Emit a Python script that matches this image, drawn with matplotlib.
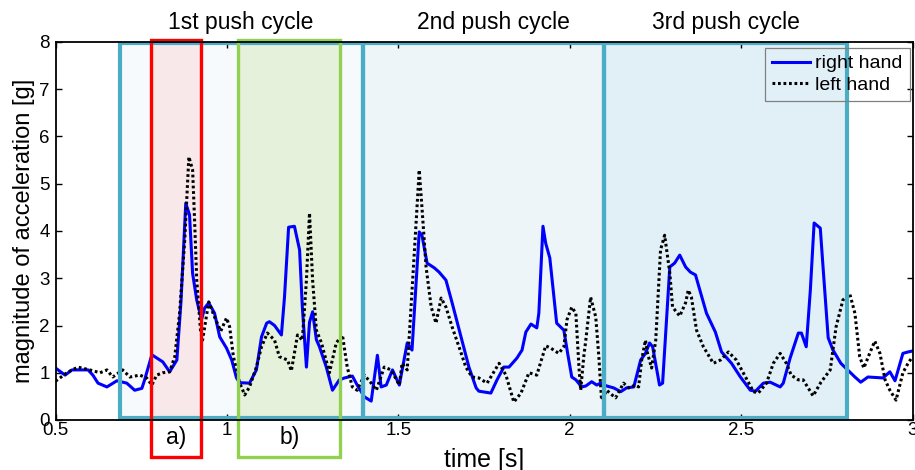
import matplotlib
matplotlib.use("Agg")
import matplotlib.pyplot as plt
from matplotlib.patches import Rectangle

plt.rcParams['font.family'] = ['Liberation Sans', 'DejaVu Sans']

# right hand acceleration magnitude [g] over time [s]
right_t = [0.500, 0.528, 0.548, 0.595, 0.609, 0.624, 0.650, 0.679, 0.708, 0.731,
           0.752, 0.760, 0.781, 0.813, 0.833, 0.854, 0.866, 0.880, 0.891, 0.900,
           0.912, 0.926, 0.935, 0.947, 0.964, 0.979, 0.999, 1.014, 1.028, 1.037,
           1.066, 1.086, 1.101, 1.116, 1.124, 1.139, 1.159, 1.168, 1.180, 1.197,
           1.212, 1.220, 1.232, 1.241, 1.250, 1.261, 1.270, 1.290, 1.308, 1.328,
           1.343, 1.366, 1.380, 1.401, 1.421, 1.439, 1.450, 1.465, 1.483, 1.503,
           1.526, 1.540, 1.561, 1.569, 1.584, 1.605, 1.619, 1.639, 1.657, 1.683,
           1.706, 1.727, 1.735, 1.770, 1.788, 1.808, 1.823, 1.846, 1.861, 1.872,
           1.887, 1.904, 1.910, 1.922, 1.930, 1.942, 1.962, 1.983, 1.994, 2.006,
           2.018, 2.035, 2.047, 2.064, 2.079, 2.090, 2.108, 2.128, 2.149, 2.166,
           2.187, 2.207, 2.221, 2.233, 2.242, 2.262, 2.271, 2.292, 2.306, 2.321,
           2.338, 2.352, 2.367, 2.399, 2.425, 2.443, 2.472, 2.498, 2.527, 2.542,
           2.565, 2.585, 2.614, 2.623, 2.643, 2.667, 2.676, 2.690, 2.702, 2.713,
           2.731, 2.739, 2.754, 2.768, 2.791, 2.811, 2.832, 2.849, 2.870, 2.914,
           2.934, 2.949, 2.972, 2.987, 3.000]
right_g = [1.10, 0.95, 1.06, 1.06, 0.95, 0.78, 0.70, 0.83, 0.78, 0.63,
           0.67, 0.85, 1.38, 1.23, 1.02, 1.27, 2.50, 4.59, 4.34, 3.10,
           2.54, 2.12, 2.37, 2.48, 2.26, 1.76, 1.52, 1.27, 0.89, 0.79,
           0.78, 1.06, 1.76, 2.05, 2.08, 2.00, 1.80, 2.60, 4.08, 4.10,
           3.60, 2.40, 1.12, 2.07, 2.29, 1.70, 1.55, 1.12, 0.63, 0.85,
           0.89, 0.93, 0.74, 0.49, 0.40, 1.37, 0.70, 0.74, 1.06, 0.74,
           1.63, 1.48, 3.98, 3.91, 3.32, 3.22, 3.13, 2.96, 2.48, 1.76,
           1.12, 0.68, 0.61, 0.57, 0.85, 1.12, 1.12, 1.31, 1.48, 1.86,
           2.03, 1.95, 2.26, 4.10, 3.74, 3.43, 2.05, 1.90, 1.41, 0.91,
           0.85, 0.70, 0.72, 0.81, 0.74, 0.78, 0.72, 0.68, 0.60, 0.68,
           0.70, 1.27, 1.41, 1.63, 1.55, 0.74, 0.78, 3.24, 3.32, 3.49,
           3.24, 3.13, 3.07, 2.26, 1.86, 1.44, 1.20, 0.91, 0.63, 0.61,
           0.78, 0.80, 0.70, 0.78, 1.31, 1.84, 1.84, 1.55, 2.75, 4.17,
           4.06, 3.24, 1.74, 1.48, 1.20, 1.06, 0.91, 0.80, 0.91, 0.89,
           1.02, 0.83, 1.41, 1.44, 1.46]

# left hand acceleration magnitude [g] over time [s]
left_t = [0.500, 0.533, 0.565, 0.600, 0.630, 0.650, 0.667, 0.696, 0.717, 0.746,
          0.766, 0.781, 0.795, 0.813, 0.833, 0.848, 0.862, 0.877, 0.889, 0.900,
          0.906, 0.912, 0.923, 0.929, 0.947, 0.964, 0.982, 0.999, 1.008, 1.019,
          1.037, 1.052, 1.066, 1.086, 1.101, 1.118, 1.124, 1.139, 1.153, 1.177,
          1.188, 1.206, 1.220, 1.232, 1.241, 1.250, 1.261, 1.276, 1.299, 1.319,
          1.337, 1.351, 1.366, 1.380, 1.401, 1.421, 1.436, 1.459, 1.479, 1.503,
          1.511, 1.526, 1.546, 1.561, 1.569, 1.581, 1.596, 1.610, 1.625, 1.639,
          1.657, 1.677, 1.697, 1.715, 1.735, 1.759, 1.794, 1.814, 1.837, 1.858,
          1.881, 1.904, 1.930, 1.945, 1.968, 1.983, 1.992, 2.006, 2.018, 2.027,
          2.032, 2.041, 2.047, 2.061, 2.076, 2.085, 2.093, 2.108, 2.120, 2.134,
          2.157, 2.172, 2.192, 2.201, 2.210, 2.221, 2.227, 2.239, 2.251, 2.265,
          2.277, 2.292, 2.300, 2.321, 2.338, 2.346, 2.355, 2.370, 2.390, 2.419,
          2.440, 2.463, 2.486, 2.513, 2.536, 2.550, 2.574, 2.594, 2.614, 2.632,
          2.646, 2.667, 2.681, 2.710, 2.733, 2.760, 2.777, 2.797, 2.817, 2.832,
          2.846, 2.858, 2.875, 2.890, 2.905, 2.920, 2.934, 2.952, 2.972, 2.987,
          3.000]
left_g = [0.82, 1.00, 1.12, 1.06, 1.00, 1.06, 0.91, 1.06, 0.91, 0.95,
          0.89, 0.74, 0.95, 1.00, 1.02, 1.34, 2.26, 3.81, 5.57, 5.29,
          4.17, 2.96, 1.90, 1.69, 2.50, 2.18, 1.88, 2.16, 1.97, 1.34,
          0.79, 0.53, 0.70, 1.12, 1.55, 1.84, 1.80, 1.69, 1.34, 1.27,
          1.04, 1.80, 1.69, 2.96, 4.38, 2.96, 1.90, 1.63, 1.00, 1.63,
          1.80, 1.12, 0.70, 0.63, 0.95, 0.78, 0.63, 1.12, 1.06, 0.74,
          1.20, 1.06, 3.45, 5.29, 4.50, 3.24, 2.39, 2.05, 2.58, 2.39,
          1.97, 1.55, 1.12, 0.91, 0.89, 0.78, 1.20, 0.95, 0.38, 0.57,
          1.00, 0.95, 1.57, 1.52, 1.41, 1.55, 2.12, 2.39, 2.26, 1.12,
          0.63, 1.34, 1.69, 2.60, 2.18, 1.34, 0.42, 0.63, 0.55, 0.47,
          0.78, 0.68, 0.74, 0.70, 1.27, 1.69, 1.41, 1.10, 1.69, 3.60,
          3.91, 3.11, 2.39, 2.20, 2.48, 2.75, 2.60, 1.90, 1.55, 1.20,
          1.27, 1.44, 1.27, 0.91, 0.60, 0.57, 0.78, 1.20, 1.41, 1.20,
          0.95, 0.85, 0.85, 0.51, 0.80, 1.06, 1.97, 2.54, 2.67, 2.26,
          1.34, 1.10, 1.41, 1.67, 1.41, 0.85, 0.63, 0.42, 1.00, 1.20,
          1.34]

# push cycles (start, end) in seconds, with their captions
cycle_bounds = [(0.689, 1.396), (1.396, 2.101), (2.101, 2.810)]
cycle_fills = ['#f7fafd', '#edf5f9', '#e1f0f6']
cycle_names = ['1st push cycle', '2nd push cycle', '3rd push cycle']
cycle_name_x = [1.04, 1.778, 2.455]

# highlighted phases a) and b)
phase_bounds = [(0.778, 0.925), (1.033, 1.331)]
phase_edges = ['#ff0000', '#92d050']
phase_fills = ['#f8e8ea', '#e5f1db']
phase_names = ['a)', 'b)']

x_ticks = [0.5, 1, 1.5, 2, 2.5, 3]
x_tick_labels = ['0.5', '1', '1.5', '2', '2.5', '3']
y_ticks = [0, 1, 2, 3, 4, 5, 6, 7, 8]

fig = plt.figure(figsize=(9.15, 4.70), dpi=100)
ax = fig.add_axes([55.5 / 915, 1 - 420 / 470, 857 / 915, 378 / 470])
ax.set_xlim(0.5, 3.0)
ax.set_ylim(0, 8)

cyc_lo, cyc_hi = 0.05, 7.97
for (a, b), fc in zip(cycle_bounds, cycle_fills):
    ax.add_patch(Rectangle((a, cyc_lo), b - a, cyc_hi - cyc_lo,
                           facecolor=fc, edgecolor='none', zorder=0.5))

ph_lo, ph_hi = -0.79, 8.05
for (a, b), fc in zip(phase_bounds, phase_fills):
    ax.add_patch(Rectangle((a, cyc_lo), b - a, cyc_hi - cyc_lo,
                           facecolor=fc, edgecolor='none', zorder=0.6))

ax.plot(right_t, right_g, color='#0000ff', lw=2.2, zorder=2, label='right hand')
ax.plot(left_t, left_g, color='black', lw=2.2, linestyle=(0, (0.9, 0.9)),
        zorder=2.1, label='left hand')

for (a, b) in cycle_bounds:
    ax.add_patch(Rectangle((a, cyc_lo), b - a, cyc_hi - cyc_lo,
                           fill=False, edgecolor='#4bacc6', lw=3.0, zorder=3))

for (a, b), ec in zip(phase_bounds, phase_edges):
    ax.add_patch(Rectangle((a, ph_lo), b - a, ph_hi - ph_lo, fill=False,
                           edgecolor=ec, lw=2.4, zorder=3.1, clip_on=False))

for (a, b), name in zip(phase_bounds, phase_names):
    ax.text((a + b) / 2, -0.38, name, ha='center', va='center',
            fontsize=16.5, clip_on=False)

for xc, name in zip(cycle_name_x, cycle_names):
    ax.text(xc, 8.275, name, ha='center', va='baseline', fontsize=16.5,
            clip_on=False)

ax.set_xticks(x_ticks)
ax.set_xticklabels(x_tick_labels)
ax.set_yticks(y_ticks)
ax.set_yticklabels([str(v) for v in y_ticks])
ax.tick_params(direction='in', length=4.5, width=1.0, top=True, right=True,
               labelsize=13.5, colors='black')
ax.tick_params(axis='x', pad=1.5)
ax.tick_params(axis='y', pad=4)
for s in ax.spines.values():
    s.set_linewidth(1.3)
    s.set_color('black')
    s.set_zorder(4)

fig.text(24.5 / 915, 1 - 231 / 470, 'magnitude of acceleration [g]',
         rotation=90, ha='center', va='center', fontsize=17)
fig.text(484 / 915, 3.5 / 470, 'time [s]', ha='center', va='baseline',
         fontsize=18)

leg = ax.legend(loc='upper right', bbox_to_anchor=(0.9965, 0.984),
                borderaxespad=0, fontsize=14, frameon=True, fancybox=False,
                facecolor='none', framealpha=1, edgecolor='#808080',
                labelspacing=0.2, borderpad=0.35, handlelength=2.0,
                handletextpad=0.25)
leg.get_frame().set_linewidth(0.9)
leg.set_zorder(5)

fig.savefig('out.png', dpi=100)
